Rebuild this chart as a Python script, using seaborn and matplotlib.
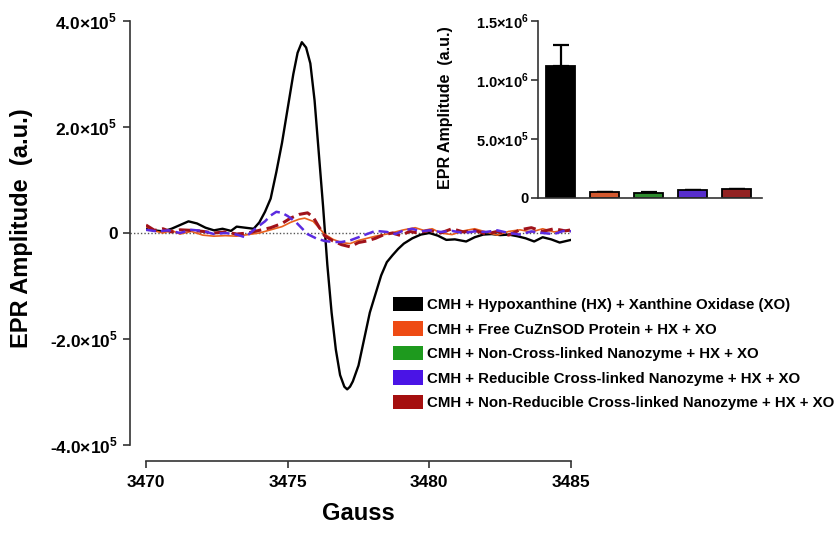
import numpy as np
import matplotlib
matplotlib.use('Agg')
import matplotlib.pyplot as plt
from matplotlib.patches import Patch
from matplotlib.ticker import FuncFormatter
import seaborn as sns

# EPR spectra (field in Gauss, amplitude in units of 1e3 a.u.)
black_g = [3470.0, 3470.3, 3470.6, 3470.9, 3471.2, 3471.5, 3471.8, 3472.1, 3472.4, 3472.7,
           3473.0, 3473.2, 3473.5, 3473.8, 3474.0, 3474.2, 3474.4, 3474.6, 3474.8, 3475.0,
           3475.2, 3475.35, 3475.5, 3475.65, 3475.8, 3475.95, 3476.1, 3476.25, 3476.4, 3476.55,
           3476.7, 3476.85, 3477.0, 3477.1, 3477.2, 3477.3, 3477.5, 3477.7, 3477.9, 3478.1,
           3478.3, 3478.5, 3478.7, 3478.9, 3479.1, 3479.4, 3479.7, 3480.0, 3480.3, 3480.6,
           3480.9, 3481.3, 3481.6, 3481.9, 3482.2, 3482.5, 3482.8, 3483.1, 3483.4, 3483.7,
           3484.0, 3484.3, 3484.6, 3485.0]
black_amp = [8, 5, 3, 8, 15, 22, 18, 10, 5, 8,
             4, 12, 10, 8, 20, 40, 65, 115, 170, 235,
             300, 340, 360, 350, 320, 250, 150, 50, -60, -150,
             -220, -268, -290, -295, -290, -280, -250, -200, -150, -115,
             -80, -55, -42, -30, -20, -10, -3, 0, -5, -13,
             -12, -16, -8, -3, -2, -4, -3, -6, -10, -16,
             -8, -12, -18, -13]

orange_g = [3470.0, 3470.3, 3470.6, 3470.9, 3471.2, 3471.6, 3472.0, 3472.4, 3472.8, 3473.2,
            3473.6, 3474.0, 3474.4, 3474.8, 3475.1, 3475.4, 3475.6, 3475.9, 3476.1, 3476.3,
            3476.6, 3476.9, 3477.2, 3477.5, 3477.8, 3478.1, 3478.5, 3478.8, 3479.1, 3479.5,
            3479.8, 3480.1, 3480.4, 3480.8, 3481.2, 3481.6, 3482.0, 3482.4, 3482.8, 3483.2,
            3483.6, 3484.0, 3484.4, 3484.8, 3485.0]
orange_amp = [12, 4, 0, 5, -2, 3, -4, -6, -5, -6,
              -3, 0, 6, 12, 20, 26, 28, 22, 10, -2,
              -12, -18, -20, -14, -10, -6, -2, 2, 6, 10,
              5, 8, 0, -3, 4, 8, 2, -4, 3, 6,
              2, 8, 2, 5, 3]

purple_g = [3470.0, 3470.4, 3470.8, 3471.2, 3471.6, 3472.0, 3472.4, 3472.8, 3473.2, 3473.5,
            3473.9, 3474.2, 3474.4, 3474.6, 3474.8, 3475.0, 3475.3, 3475.7, 3476.0, 3476.3,
            3476.6, 3476.9, 3477.2, 3477.5, 3477.8, 3478.1, 3478.5, 3478.8, 3479.1, 3479.4,
            3479.7, 3480.0, 3480.4, 3480.8, 3481.2, 3481.6, 3482.0, 3482.4, 3482.8, 3483.2,
            3483.6, 3484.0, 3484.4, 3484.8, 3485.0]
purple_amp = [6, 3, 5, 0, 6, 4, -2, 0, -3, -8,
              10, 22, 33, 40, 38, 32, 20, -2, -10, -15,
              -17, -17, -14, -8, -2, 4, 2, -2, 5, 8,
              3, 5, 2, 4, 0, 3, 2, 5, 0, -3,
              3, 0, -2, 5, 3]

red_g = [3470.0, 3470.3, 3470.6, 3470.9, 3471.2, 3471.6, 3472.0, 3472.4, 3472.8, 3473.2,
         3473.6, 3474.0, 3474.4, 3474.8, 3475.1, 3475.4, 3475.7, 3475.9, 3476.1, 3476.3,
         3476.6, 3476.9, 3477.2, 3477.5, 3477.8, 3478.1, 3478.4, 3478.7, 3479.0, 3479.3,
         3479.6, 3480.0, 3480.4, 3480.8, 3481.2, 3481.6, 3482.0, 3482.4, 3482.8, 3483.2,
         3483.6, 3484.0, 3484.4, 3484.8, 3485.0]
red_amp = [15, 5, 8, 2, 6, 5, 3, 0, 2, -2,
           0, 5, 10, 18, 28, 35, 38, 30, 12, -5,
           -15, -22, -26, -18, -15, -10, -3, 0, -5, 3,
           0, 5, 0, 8, 2, 5, -2, 3, -4, 6,
           10, 3, 8, 4, 6]

# inset bar chart
bar_groups = ['HX + XO', 'Free CuZnSOD', 'Non-Cross-linked', 'Reducible CL', 'Non-Reducible CL']
bar_amp = [1.12e6, 5.0e4, 4.6e4, 6.5e4, 7.4e4]
bar_err = [1.77e5, 4e3, 3e3, 4e3, 4e3]

legend_labels = ['CMH + Hypoxanthine (HX) + Xanthine Oxidase (XO)',
                 'CMH + Free CuZnSOD Protein + HX + XO',
                 'CMH + Non-Cross-linked Nanozyme + HX + XO',
                 'CMH + Reducible Cross-linked Nanozyme + HX + XO',
                 'CMH + Non-Reducible Cross-linked Nanozyme + HX + XO']
colors = ['#000000', '#EE4B14', '#1E9A1E', '#4A14E6', '#A50F0F']

sns.set_theme(style='ticks')
plt.rcParams['font.family'] = ['Liberation Sans', 'DejaVu Sans']
plt.rcParams['font.weight'] = 'bold'
plt.rcParams['mathtext.fontset'] = 'custom'
plt.rcParams['mathtext.rm'] = 'Liberation Sans:bold'
plt.rcParams['mathtext.bf'] = 'Liberation Sans:bold'
for k in ('text.color', 'axes.labelcolor', 'xtick.color', 'ytick.color'):
    plt.rcParams[k] = 'black'


def sci(v, pos):
    if abs(v) < 1:
        return '0'
    m, e = f'{v:.1e}'.split('e')
    return '%s\u00d710$^{%d}$' % (m, int(e))


W, H = 837, 537
fig = plt.figure(figsize=(W / 100, H / 100), dpi=100)

# ---- main spectrum axes
ax = fig.add_axes([146 / W, 1 - 445 / H, 425 / W, 424 / H])
ax.axhline(0, xmin=-16 / 425, xmax=1.0, color='#555555', lw=1, ls=(0, (1, 1.5)), clip_on=False, zorder=1)
sns.lineplot(x=black_g, y=np.array(black_amp) * 1e3, ax=ax, color=colors[0], lw=1.7, zorder=3)
sns.lineplot(x=orange_g, y=np.array(orange_amp) * 1e3, ax=ax, color='#E8601C', lw=1.2, zorder=4)
sns.lineplot(x=red_g, y=np.array(red_amp) * 1e3, ax=ax, color='#A0121A', lw=2.2,
             linestyle=(0, (4, 1.8)), zorder=4)
sns.lineplot(x=purple_g, y=np.array(purple_amp) * 1e3, ax=ax, color='#5B2BE0', lw=1.8,
             linestyle=(0, (4, 2)), zorder=5)

ax.set_xlim(3470, 3485)
ax.set_ylim(-4e5, 4e5)
ax.set_xticks([3470, 3475, 3480, 3485])
ax.set_yticks([-4e5, -2e5, 0, 2e5, 4e5])
ax.yaxis.set_major_formatter(FuncFormatter(sci))
ax.tick_params(axis='x', labelsize=12.5, length=5, width=1.2, pad=5, color='#333333')
ax.tick_params(axis='y', labelsize=12.5, length=5, width=1.2, pad=4, color='#333333')
for lab in ax.get_xticklabels():
    lab.set_fontweight('bold')
sns.despine(ax=ax)
ax.spines['left'].set_position(('outward', 11.5))
ax.spines['bottom'].set_position(('outward', 11.5))
for s in ('left', 'bottom'):
    ax.spines[s].set_linewidth(1.2)
    ax.spines[s].set_color('#333333')
ax.set_xlabel('Gauss', fontsize=17, fontweight='bold')
ax.set_ylabel('EPR Amplitude  (a.u.)', fontsize=17, fontweight='bold')
ax.xaxis.set_label_coords(0.5, -0.135)
ax.yaxis.set_label_coords(-0.266, 0.512)
ax.patch.set_alpha(0)

# ---- inset bar chart
ax2 = fig.add_axes([538 / W, 1 - 198 / H, 224 / W, 177 / H])
sns.barplot(x=bar_groups, y=bar_amp, hue=bar_groups, palette=colors, legend=False,
            width=0.66, edgecolor='black', linewidth=1.3, ax=ax2, zorder=2)
ax2.errorbar(x=range(len(bar_amp)), y=bar_amp, yerr=[[0] * len(bar_err), bar_err],
             fmt='none', ecolor='black', elinewidth=1.6, capsize=6, capthick=1.6, zorder=1)
ax2.set_xlim(-0.52, 4.57)
ax2.set_ylim(0, 1.5e6)
ax2.set_yticks([0, 5e5, 1.0e6, 1.5e6])
ax2.yaxis.set_major_formatter(FuncFormatter(sci))
ax2.set_xticks([])
ax2.tick_params(axis='y', labelsize=10.5, length=5, width=1.2, pad=2, color='#333333')
sns.despine(ax=ax2)
for s in ('left', 'bottom'):
    ax2.spines[s].set_linewidth(1.2)
    ax2.spines[s].set_color('#333333')
ax2.set_xlabel('')
ax2.set_ylabel('EPR Amplitude  (a.u.)', fontsize=11.5, fontweight='bold')
ax2.yaxis.set_label_coords(-0.38, 0.511)

# ---- legend
handles = [Patch(facecolor=c, edgecolor='none') for c in colors]
fig.legend(handles, legend_labels, loc='upper left', bbox_to_anchor=(393 / W, 1 - 297 / H),
           frameon=False, borderpad=0, borderaxespad=0, handlelength=2.0, handleheight=1.07,
           handletextpad=0.3, labelspacing=0.62, prop={'size': 10.8, 'weight': 'bold'})

fig.savefig('out.png', dpi=100)
